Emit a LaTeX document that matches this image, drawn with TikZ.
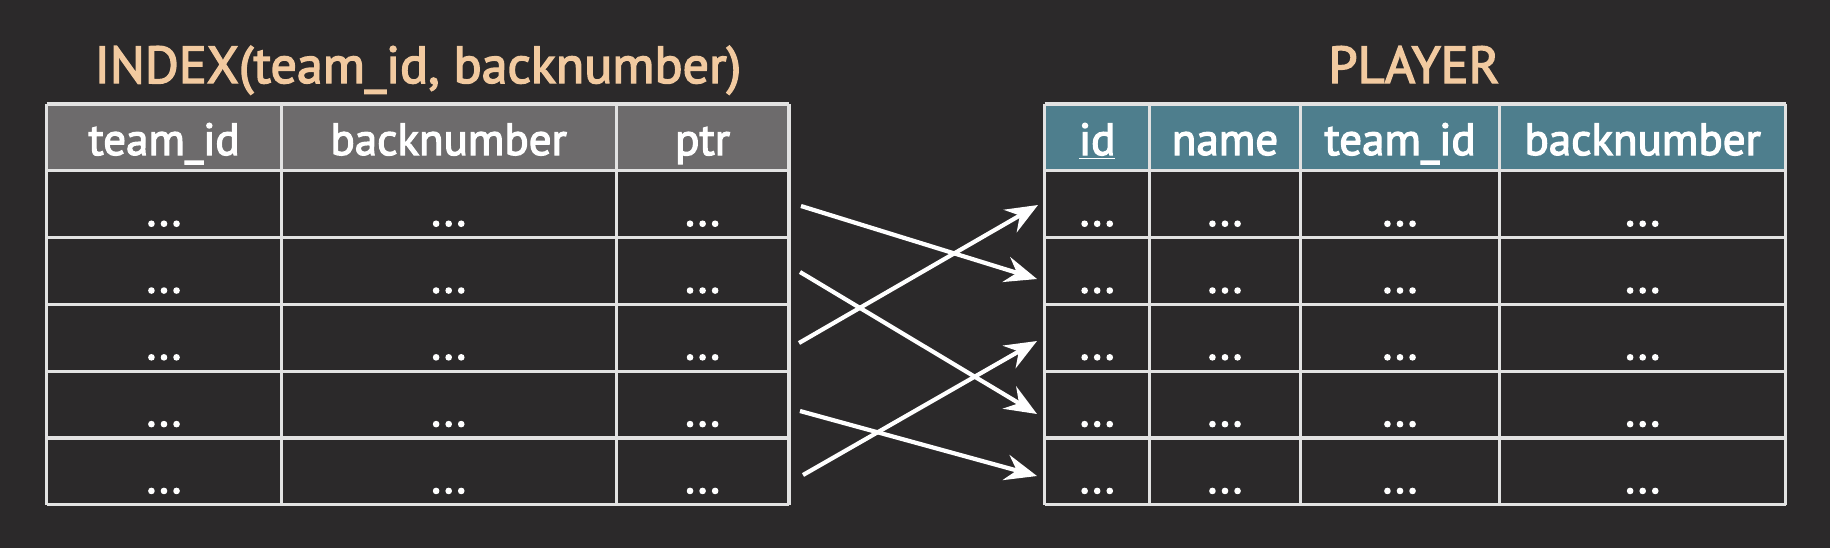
\documentclass[tikz,border=0pt]{standalone}
\usepackage{fontspec}
\setmainfont{PT Sans}[RawFeature={embolden=2.8}]
\usetikzlibrary{arrows.meta}
\definecolor{bg}{HTML}{2B292A}
\definecolor{hdrgray}{HTML}{6D6B6C}
\definecolor{hdrteal}{HTML}{4E7E8D}
\definecolor{titlecol}{HTML}{F2CAA0}
\definecolor{gridcol}{HTML}{E2E2E2}
\tikzset{
  celltext/.style={text=white, font=\fontsize{22.5pt}{26pt}\selectfont, anchor=base, inner sep=0pt},
  titletext/.style={text=titlecol, font=\fontsize{26pt}{30pt}\selectfont, anchor=base, inner sep=0pt},
  gridline/.style={draw=gridcol, line width=1.6pt},
  ptr/.style={draw=white, line width=2.1pt, -{Stealth[length=16pt,width=13pt,inset=5.5pt]}}
}
\begin{document}
\begin{tikzpicture}[x=0.5pt,y=-0.5pt]
\fill[bg] (0,0) rectangle (1830,548);
\useasboundingbox (0,0) rectangle (1830,548);

% titles
\node[titletext] (t1) at (418,83) {INDEX(team\_id, backnumber)};
\node[titletext] (t2) at (1414,83) {PLAYER};

% headers
\fill[hdrgray] (46.7,104) rectangle (789,170.8);
\fill[hdrteal] (1044.6,104) rectangle (1785.6,170.8);

% grid lines
\foreach \y in {104,170.8,237.6,304.4,371.2,438,504.8}{
  \draw[gridline] (46.7,\y) -- (789,\y);
  \draw[gridline] (1044.6,\y) -- (1785.6,\y);
}
\foreach \x in {46.7,281.3,616.2,789}{
  \draw[gridline] (\x,104) -- (\x,504.8);
}
\foreach \x in {1044.6,1149.8,1300.3,1499.8,1785.6}{
  \draw[gridline] (\x,104) -- (\x,504.8);
}

% header texts
\node[celltext] (lh1) at (164,155) {team\_id};
\node[celltext] (lh2) at (448.7,155) {backnumber};
\node[celltext] (lh3) at (702.6,155) {ptr};
\node[celltext] (rh1) at (1097.2,155) {\underline{id}};
\node[celltext] (rh2) at (1225,155) {name};
\node[celltext] (rh3) at (1400,155) {team\_id};
\node[celltext] (rh4) at (1642.7,155) {backnumber};

% body
\foreach \r in {1,...,5}{
  \pgfmathsetmacro{\yb}{170.8+(\r-1)*66.8+55}
  \node[celltext] (L\r-1) at (164,\yb) {...};
  \node[celltext] (L\r-2) at (448.7,\yb) {...};
  \node[celltext] (L\r-3) at (702.6,\yb) {...};
  \node[celltext] (R\r-1) at (1097.2,\yb) {...};
  \node[celltext] (R\r-2) at (1225,\yb) {...};
  \node[celltext] (R\r-3) at (1400,\yb) {...};
  \node[celltext] (R\r-4) at (1642.7,\yb) {...};
}

% arrows
\coordinate (a1s) at (801,206);   \coordinate (a1e) at (1037,279);
\coordinate (a2s) at (800,272);   \coordinate (a2e) at (1037,414);
\coordinate (a3s) at (799,343);   \coordinate (a3e) at (1038,205);
\coordinate (a4s) at (800,411);   \coordinate (a4e) at (1037,476);
\coordinate (a5s) at (803,475);   \coordinate (a5e) at (1037,341);
\draw[ptr] (a1s) -- (a1e);
\draw[ptr] (a2s) -- (a2e);
\draw[ptr] (a3s) -- (a3e);
\draw[ptr] (a4s) -- (a4e);
\draw[ptr] (a5s) -- (a5e);
\end{tikzpicture}
\end{document}
